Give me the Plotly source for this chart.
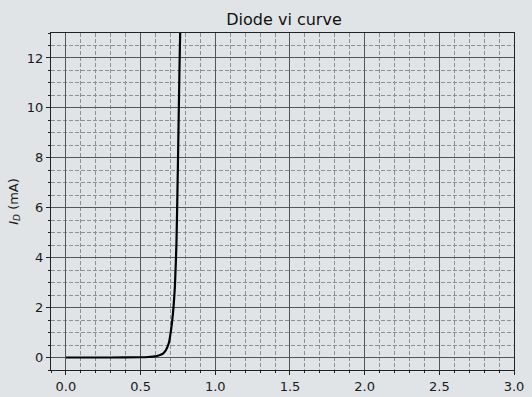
import plotly.graph_objects as go

# Diode forward voltage (V) and current (mA)
v_d = [0.0, 0.30, 0.50, 0.55, 0.60, 0.63, 0.65, 0.67, 0.69, 0.70, 0.71, 0.72, 0.73, 0.74, 0.75, 0.76, 0.768]
i_d = [0.0, 0.0, 0.01, 0.02, 0.05, 0.10, 0.16, 0.30, 0.60, 0.95, 1.40, 2.0, 2.9, 4.6, 7.8, 11.5, 14.0]

x_ticks = [0.0, 0.5, 1.0, 1.5, 2.0, 2.5, 3.0]
x_tick_labels = ["0.0", "0.5", "1.0", "1.5", "2.0", "2.5", "3.0"]
y_ticks = [0, 2, 4, 6, 8, 10, 12]
y_tick_labels = ["0", "2", "4", "6", "8", "10", "12"]

bg = "#e0e4e7"
font = "DejaVu Sans"

fig = go.Figure()
fig.add_trace(go.Scatter(x=v_d, y=i_d, mode="lines",
                         line=dict(color="black", width=2.2, shape="spline", smoothing=0.6),
                         showlegend=False, cliponaxis=True))

axis_common = dict(
    showline=True, linecolor="#222", linewidth=1.2, mirror=True,
    showgrid=True, gridcolor="#555", gridwidth=1,
    ticks="outside", ticklen=4, tickcolor="#222",
    tickfont=dict(family=font, size=13, color="#1a1a1a"),
    zeroline=False, automargin=False,
)

minor_common = dict(showgrid=True, gridcolor="#8f8f8f", griddash="4px,2px",
                    gridwidth=0.8, ticks="outside", ticklen=2, tickcolor="#222")

fig.update_xaxes(range=[-0.1, 3.0], tickvals=x_ticks, ticktext=x_tick_labels,
                 minor=dict(dtick=0.1, **minor_common),
                 **axis_common)
fig.update_yaxes(range=[-0.5, 13.0], tickvals=y_ticks, ticktext=y_tick_labels,
                 minor=dict(dtick=0.5, **minor_common),
                 title=dict(text="<i>I</i><sub><i>D</i></sub> (mA)", font=dict(family=font, size=13, color="#1a1a1a"),
                            standoff=5),
                 **axis_common)

fig.update_layout(
    width=532, height=397,
    margin=dict(l=51, r=18, t=33, b=27),
    paper_bgcolor=bg, plot_bgcolor=bg,
    title=dict(text="Diode vi curve", x=284 / 532, xanchor="center", y=0.95, yanchor="middle",
               font=dict(family=font, size=16, color="#111")),
)

fig.write_html("out.html", config={"displayModeBar": False},
               post_script="document.body.style.margin='0px';document.body.style.overflow='hidden';")
